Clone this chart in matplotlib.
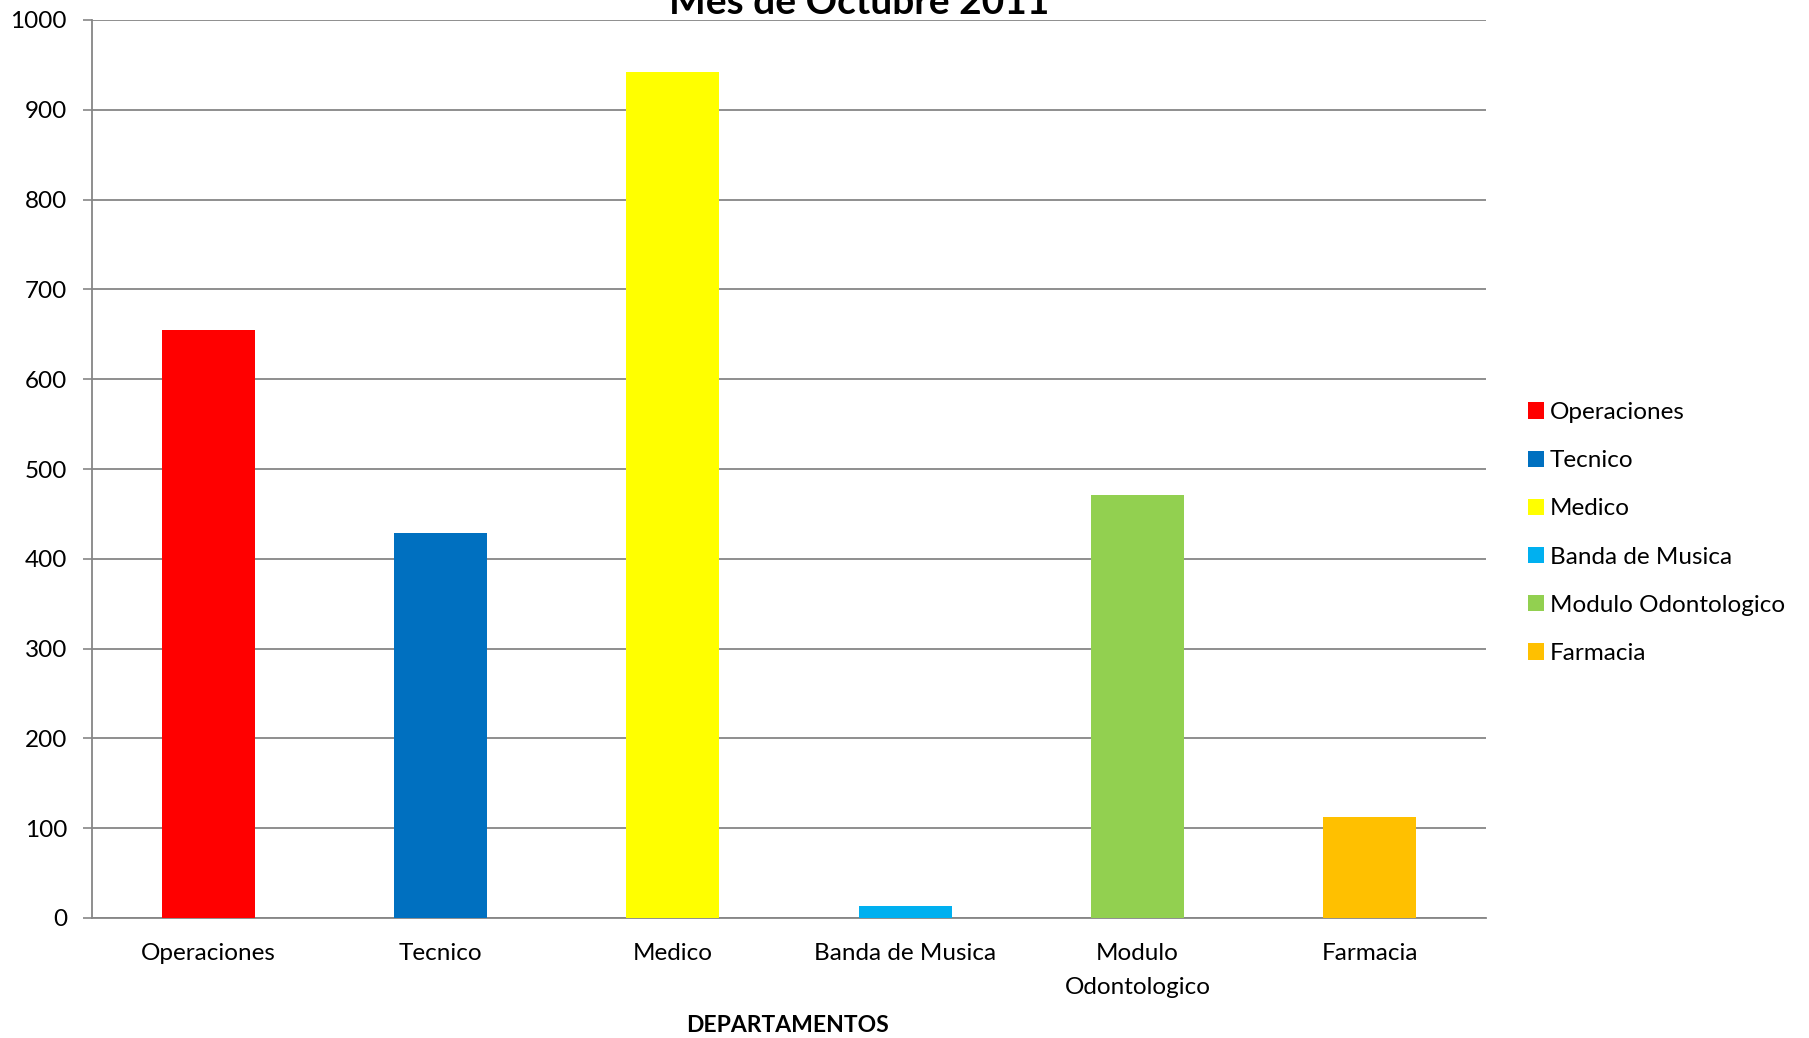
import matplotlib
matplotlib.use("Agg")
import matplotlib.pyplot as plt
from matplotlib.patches import Patch

# datos del grafico
departamentos = ["Operaciones", "Tecnico", "Medico", "Banda de Musica",
                 "Modulo Odontologico", "Farmacia"]
etiquetas_x = ["Operaciones", "Tecnico", "Medico", "Banda de Musica",
               "Modulo\nOdontologico", "Farmacia"]
valores = [655, 429, 942, 13, 471, 113]
colores = ["#FF0000", "#0070C0", "#FFFF00", "#00B0F0", "#92D050", "#FFC000"]
ticks_y = [0, 100, 200, 300, 400, 500, 600, 700, 800, 900, 1000]

plt.rcParams['font.family'] = ['Lato', 'DejaVu Sans']
gris = "#868686"

W, H = 1809, 1038
fig = plt.figure(figsize=(W / 100, H / 100), dpi=100)
ax = fig.add_axes([92 / W, 1 - 918 / H, (1486 - 92) / W, (918 - 20) / H])

x = list(range(len(departamentos)))
ax.bar(x, valores, width=0.40, color=colores, zorder=3)

ax.set_xlim(-0.5, len(departamentos) - 0.5)
ax.set_ylim(0, 1000)
ax.set_yticks(ticks_y)
ax.set_xticks(x)
ax.set_xticklabels(etiquetas_x, fontsize=17.5, linespacing=1.75)
ax.tick_params(axis='x', length=0, pad=18)
ax.tick_params(axis='y', length=6.5, width=1.2, color=gris, labelsize=17.5, pad=11.5)

ax.grid(axis='y', color=gris, linewidth=1.3, zorder=0)
ax.set_axisbelow(True)
for lado in ["top", "right"]:
    ax.spines[lado].set_visible(False)
for lado in ["left", "bottom"]:
    ax.spines[lado].set_color(gris)
    ax.spines[lado].set_linewidth(1.3)

fig.text(788 / W, 1 - 1025 / H, "DEPARTAMENTOS", ha='center', va='center',
         fontsize=16.5, fontweight='bold')
# titulo cortado en la parte superior, como en el original
fig.text(859 / W, 1 - 14 / H, "Mes de Octubre 2011", ha='center', va='baseline',
         fontsize=28, fontweight='bold')

handles = [Patch(facecolor=c, edgecolor='none') for c in colores]
fig.legend(handles, departamentos, loc='center left',
           bbox_to_anchor=(1518 / W, 1 - 533 / H), frameon=False,
           fontsize=17.5, handlelength=0.65, handleheight=0.65,
           handletextpad=0.25, labelspacing=1.12, borderaxespad=0)

fig.savefig("out.png", dpi=100)
